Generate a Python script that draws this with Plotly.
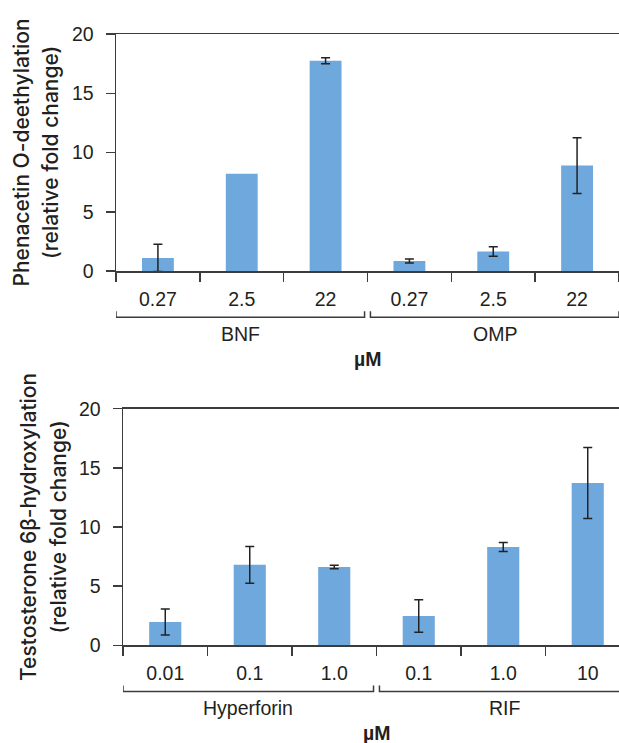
import plotly.graph_objects as go

# ---- data ----
top_doses = ["0.27", "2.5", "22", "0.27", "2.5", "22"]
top_values = [1.1, 8.2, 17.75, 0.85, 1.65, 8.9]
top_errors = [1.15, None, 0.25, 0.17, 0.4, 2.35]
top_groups = ["BNF", "OMP"]
top_title = ["Phenacetin O-deethylation", "(relative fold change)"]

bot_doses = ["0.01", "0.1", "1.0", "0.1", "1.0", "10"]
bot_values = [1.97, 6.8, 6.62, 2.48, 8.3, 13.72]
bot_errors = [1.1, 1.55, 0.15, 1.38, 0.38, 3.0]
bot_groups = ["Hyperforin", "RIF"]
bot_title = ["Testosterone 6β-hydroxylation", "(relative fold change)"]

unit_label = "µM"
y_ticks = [0, 5, 10, 15, 20]

# ---- style ----
W, H = 619, 743
BAR = "#6fa8dc"
AX = "#3c3c3c"
TXT = "#231f20"
FONT = "Liberation Sans"
TITLE_FONT = "Inter"
TICK_SIZE = 19.5
TITLE_SIZE = 21

fig = go.Figure()

panels = [
    dict(doses=top_doses, vals=top_values, errs=top_errors, groups=top_groups,
         title=top_title, xa="x", ya="y", left=116, yd=[(H - 271) / H, (H - 34) / H],
         xr=[-0.5, 5.5]),
    dict(doses=bot_doses, vals=bot_values, errs=bot_errors, groups=bot_groups,
         title=bot_title, xa="x2", ya="y2", left=123, yd=[(H - 645.3) / H, (H - 408.7) / H],
         xr=[-0.5, 5.37]),
]

for i, p in enumerate(panels):
    n = len(p["doses"])
    xs = list(range(n))
    errs = [e if e is not None else "NaN" for e in p["errs"]]
    fig.add_trace(go.Bar(
        x=xs, y=p["vals"], width=0.38, marker=dict(color=BAR, line=dict(width=0)),
        error_y=dict(type="data", array=errs, visible=True, color="#222222",
                     thickness=1.5, width=4.5),
        xaxis=p["xa"], yaxis=p["ya"], showlegend=False, hoverinfo="skip",
    ))
    sfx = "" if i == 0 else "2"
    fig.update_layout(**{
        "xaxis" + sfx: dict(
            domain=[p["left"] / W, 1.0], range=p["xr"], anchor=p["ya"],
            tickmode="array", tickvals=xs, ticktext=p["doses"], ticks="",
            showline=True, linecolor=AX, linewidth=1.5, mirror=True,
            showgrid=False, zeroline=False, ticklabelstandoff=10,
            tickfont=dict(family=FONT, size=TICK_SIZE, color=TXT),
            minor=dict(tickmode="linear", tick0=0.5, dtick=1, ticks="outside",
                       ticklen=9, tickwidth=1.5, tickcolor=AX, showgrid=False),
        ),
        "yaxis" + sfx: dict(
            domain=p["yd"], range=[0, 20], anchor=p["xa"],
            tickmode="array", tickvals=y_ticks, ticks="outside", ticklen=9,
            tickwidth=1.5, tickcolor=AX, showline=True, linecolor=AX, linewidth=1.5,
            showgrid=False, zeroline=False, ticklabelstandoff=8,
            tickfont=dict(family=FONT, size=TICK_SIZE, color=TXT),
        ),
    })
    yref_dom = p["ya"] + " domain"
    # y-axis title, two lines
    for line_text, off in zip(p["title"], [-95, -65.5]):
        fig.add_annotation(text=line_text, xref="paper", yref=yref_dom,
                           x=(p["left"] + off) / W, y=0.5, xanchor="center", yanchor="middle",
                           textangle=-90, showarrow=False,
                           font=dict(family=TITLE_FONT, size=TITLE_SIZE, color=TXT, weight=500))
    # group brackets
    half = n // 2
    gap = 0.035
    spans = [(-0.5, half - 0.5 - gap), (half - 0.5 + gap, n - 0.5)]
    for g, (x0, x1) in zip(p["groups"], spans):
        fig.add_shape(type="path", xref=p["xa"], yref=yref_dom,
                      path=f"M {x0},-0.17 L {x0},-0.195 L {x1},-0.195 L {x1},-0.17",
                      line=dict(color=AX, width=1.5))
        fig.add_annotation(text=g, xref=p["xa"], yref=yref_dom,
                           x=(x0 + x1) / 2, y=-0.265, xanchor="center", yanchor="middle",
                           showarrow=False, font=dict(family=FONT, size=TICK_SIZE, color=TXT))
    fig.add_annotation(text=f"<b>{unit_label}</b>", xref=p["xa"], yref=yref_dom,
                       x=(n - 1) / 2, y=-0.37,
                       xanchor="center", yanchor="middle", showarrow=False,
                       font=dict(family=FONT, size=TICK_SIZE, color=TXT))

fig.update_layout(
    width=W, height=H, margin=dict(l=0, r=0, t=0, b=0, autoexpand=False),
    paper_bgcolor="white", plot_bgcolor="white", bargap=0.6,
)

fig.write_html("out.html", config={"displayModeBar": False, "staticPlot": True},
               post_script="document.body.style.margin='0';")
